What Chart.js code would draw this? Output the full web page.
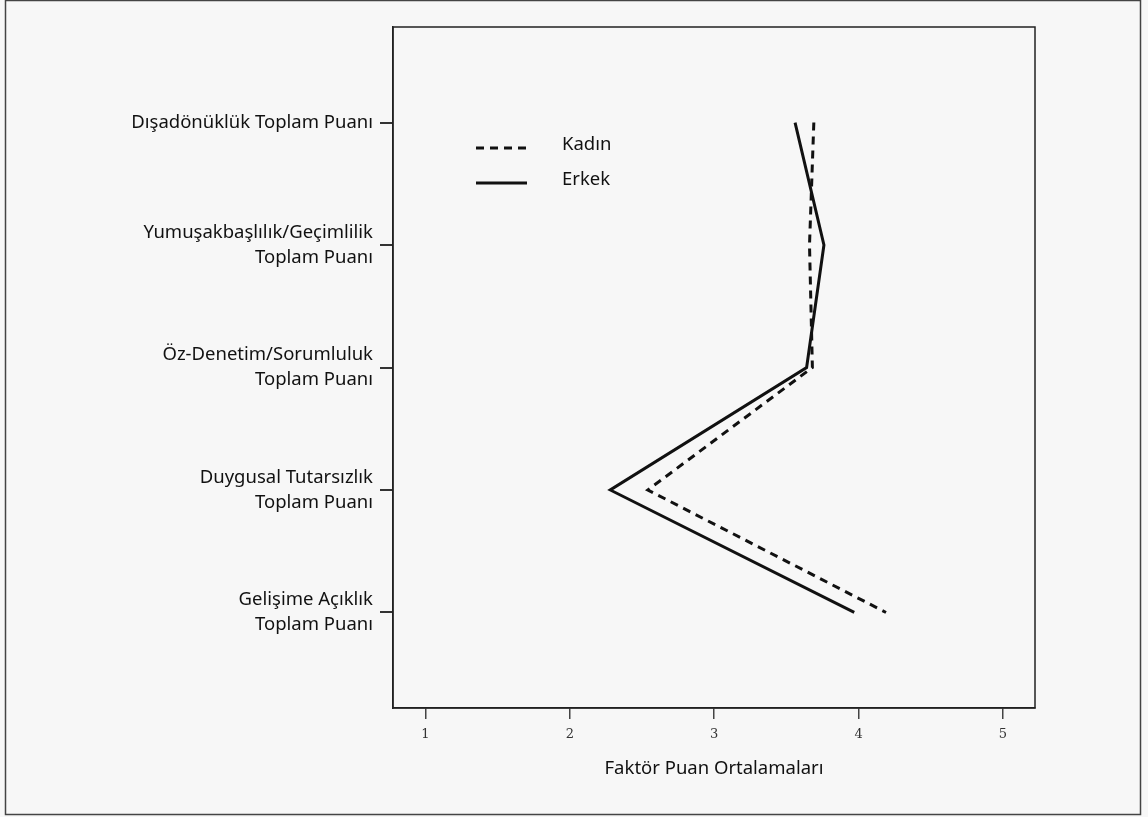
<!DOCTYPE html>
<html>
<head>
<meta charset="utf-8">
<script src="https://cdn.jsdelivr.net/npm/chart.js@4.4.1/dist/chart.umd.min.js"></script>
<style>
  html, body { margin: 0; padding: 0; background: #f7f7f7; }
  #wrap { width: 1148px; height: 817px; position: relative; }
</style>
</head>
<body>
<div id="wrap"><canvas id="chart"></canvas></div>
<script>
// Factors (top to bottom)
const categories = [
  ['Dışadönüklük Toplam Puanı'],
  ['Yumuşakbaşlılık/Geçimlilik', 'Toplam Puanı'],
  ['Öz-Denetim/Sorumluluk', 'Toplam Puanı'],
  ['Duygusal Tutarsızlık', 'Toplam Puanı'],
  ['Gelişime Açıklık', 'Toplam Puanı']
];
const kadin = [3.69, 3.66, 3.68, 2.54, 4.19];
const erkek = [3.56, 3.76, 3.64, 2.28, 3.97];
const xTicks = [1, 2, 3, 4, 5];
const xTitle = 'Faktör Puan Ortalamaları';

const labelFont = { family: 'Noto Sans', size: 18.5, lineHeight: 1.35 };
const ink = '#111';

const toPoints = arr => arr.map((v, i) => ({ x: v, y: i }));

// background, outer frame, plot box and legend
const framePlugin = {
  id: 'frame',
  beforeDraw(chart) {
    const ctx = chart.ctx;
    ctx.save();
    ctx.fillStyle = '#f7f7f7';
    ctx.fillRect(0, 0, chart.width, chart.height);
    ctx.strokeStyle = '#444';
    ctx.lineWidth = 1.5;
    ctx.strokeRect(5.5, 0.5, 1135, 814);
    ctx.restore();
  },
  afterDraw(chart) {
    const ctx = chart.ctx;
    const a = chart.chartArea;
    ctx.save();
    ctx.strokeStyle = '#222';
    ctx.lineWidth = 1.5;
    ctx.strokeRect(a.left, a.top, a.right - a.left, a.bottom - a.top);

    // legend
    let y = 145;
    chart.data.datasets.forEach(ds => {
      ctx.beginPath();
      ctx.setLineDash(ds.borderDash || []);
      ctx.lineWidth = 3;
      ctx.strokeStyle = ds.borderColor;
      ctx.moveTo(476, y + 3);
      ctx.lineTo(527, y + 3);
      ctx.stroke();
      ctx.setLineDash([]);
      ctx.fillStyle = ink;
      ctx.font = '18.5px "Noto Sans"';
      ctx.textBaseline = 'middle';
      ctx.fillText(ds.label, 562, y);
      y += 35;
    });
    ctx.restore();
  }
};

new Chart(document.getElementById('chart'), {
  type: 'line',
  data: {
    datasets: [
      {
        label: 'Kadın',
        data: toPoints(kadin),
        borderColor: '#111',
        borderWidth: 3,
        borderDash: [8, 6],
        pointRadius: 0,
        tension: 0
      },
      {
        label: 'Erkek',
        data: toPoints(erkek),
        borderColor: '#111',
        borderWidth: 3,
        pointRadius: 0,
        tension: 0
      }
    ]
  },
  options: {
    responsive: true,
    maintainAspectRatio: false,
    animation: false,
    layout: { padding: { left: 0, right: 113, top: 27, bottom: 32 } },
    plugins: {
      legend: { display: false },
      tooltip: { enabled: false }
    },
    scales: {
      x: {
        type: 'linear',
        min: 0.775,
        max: 5.222,
        afterBuildTicks: scale => { scale.ticks = xTicks.map(v => ({ value: v })); },
        afterFit: scale => { scale.height = 77; },
        border: { display: true, color: '#222', width: 1.5 },
        grid: { drawOnChartArea: false, drawTicks: true, tickLength: 11, color: '#444', lineWidth: 1.5 },
        ticks: {
          color: '#333',
          font: { family: 'DejaVu Serif', size: 13 },
          padding: 8,
          maxRotation: 0
        },
        title: {
          display: true,
          text: xTitle,
          color: ink,
          font: labelFont,
          padding: { top: 0 }
        }
      },
      y: {
        type: 'linear',
        reverse: true,
        min: -0.78,
        max: 4.78,
        afterBuildTicks: scale => { scale.ticks = categories.map((c, i) => ({ value: i })); },
        afterFit: scale => {
          scale.width = 393;
          scale.paddingTop = 0;
          scale.paddingBottom = 0;
        },
        border: { display: true, color: '#222', width: 1.5 },
        grid: { drawOnChartArea: false, drawTicks: true, tickLength: 13, color: '#333', lineWidth: 2 },
        ticks: {
          color: ink,
          font: labelFont,
          padding: 7,
          callback: value => categories[value]
        }
      }
    }
  },
  plugins: [framePlugin]
});
</script>
</body>
</html>
